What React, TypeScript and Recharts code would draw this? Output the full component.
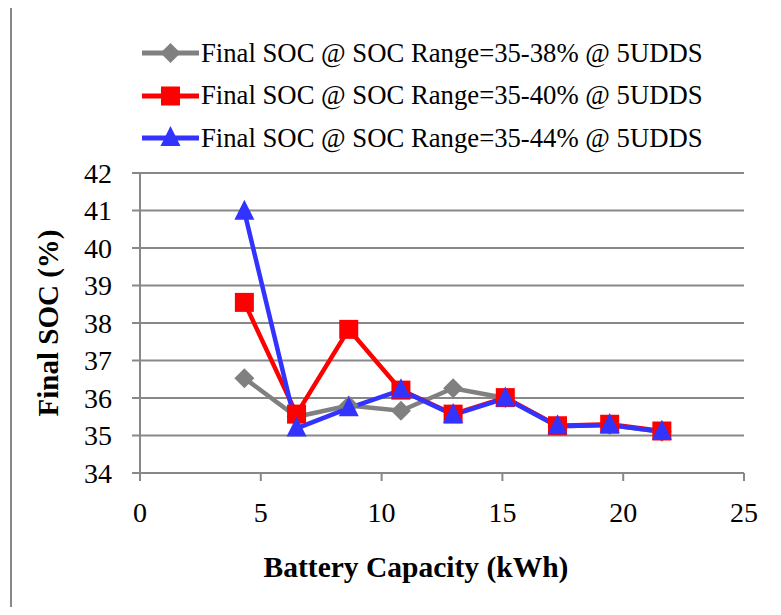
import { LineChart, Line, XAxis, YAxis, CartesianGrid } from "recharts"

// battery capacity (kWh) for each simulated pack
const capacity = [4.32, 6.48, 8.64, 10.8, 12.96, 15.12, 17.28, 19.44, 21.6]
// final SOC (%) after 5 UDDS, by SOC window
const soc35to38 = [36.53, 35.5, 35.8, 35.66, 36.26, 36.0, 35.25, 35.28, 35.1]
const soc35to40 = [38.55, 35.57, 37.83, 36.21, 35.57, 36.01, 35.26, 35.3, 35.12]
const soc35to44 = [40.97, 35.19, 35.73, 36.21, 35.55, 35.99, 35.25, 35.28, 35.1]

const xTicks = [0, 5, 10, 15, 20, 25]
const yTicks = [34, 35, 36, 37, 38, 39, 40, 41, 42]

const seriesNames = [
  "Final SOC @ SOC Range=35-38% @ 5UDDS",
  "Final SOC @ SOC Range=35-40% @ 5UDDS",
  "Final SOC @ SOC Range=35-44% @ 5UDDS",
]

const data = capacity.map((x, i) => ({
  x,
  a: soc35to38[i],
  b: soc35to40[i],
  c: soc35to44[i],
}))

const GRAY = "#808080"
const RED = "#FF0000"
const BLUE = "#3333FF"
const FONT = "'Liberation Serif', 'Times New Roman', serif"

type Marker = "diamond" | "square" | "triangle"

function markerShape(kind: Marker, cx: number, cy: number, color: string, key?: string | number) {
  if (kind === "diamond") {
    return <polygon key={key} points={`${cx},${cy - 10} ${cx + 10},${cy} ${cx},${cy + 10} ${cx - 10},${cy}`} fill={color} />
  }
  if (kind === "square") {
    return <rect key={key} x={cx - 9.5} y={cy - 9.5} width={19} height={19} fill={color} />
  }
  return <polygon key={key} points={`${cx},${cy - 12} ${cx + 10},${cy + 8} ${cx - 10},${cy + 8}`} fill={color} />
}

const makeDot = (kind: Marker, color: string) => (props: any) => {
  const { cx, cy, index } = props
  if (cx == null || cy == null) return <g key={index} />
  return markerShape(kind, cx, cy, color, index)
}

const legendItems: { name: string; color: string; kind: Marker }[] = [
  { name: seriesNames[0], color: GRAY, kind: "diamond" },
  { name: seriesNames[1], color: RED, kind: "square" },
  { name: seriesNames[2], color: BLUE, kind: "triangle" },
]

function ChartLegend() {
  return (
    <div
      style={{
        position: "absolute",
        left: 134,
        top: 24,
        fontFamily: FONT,
        fontSize: 26.7,
        color: "#000",
      }}
    >
      {legendItems.map((it) => (
        <div key={it.name} style={{ display: "flex", alignItems: "center", height: 42.5 }}>
          <svg width={57} height={26} style={{ marginRight: 2 }}>
            <line x1={0} y1={13} x2={57} y2={13} stroke={it.color} strokeWidth={5} />
            {markerShape(it.kind, 28.5, 13, it.color)}
          </svg>
          <span style={{ whiteSpace: "nowrap" }}>{it.name}</span>
        </div>
      ))}
    </div>
  )
}

export default function App() {
  return (
    <div style={{ position: "relative", width: 773, height: 599 }}>
      <div
        style={{
          position: "absolute",
          left: 2,
          top: -3,
          width: 760,
          height: 600,
          borderTop: "2px solid #888",
          borderLeft: "2px solid #888",
        }}
      />
      <ChartLegend />
      <LineChart
        width={773}
        height={599}
        data={data}
        margin={{ top: 165, right: 37, bottom: 0, left: 0 }}
        style={{ position: "absolute", left: 0, top: 0 }}
      >
        <CartesianGrid vertical={false} stroke="#888" strokeWidth={2} />
        <XAxis
          type="number"
          dataKey="x"
          domain={[0, 25]}
          ticks={xTicks}
          height={134}
          stroke="#888"
          strokeWidth={2}
          tickSize={8}
          tickMargin={21}
          tick={{ fontFamily: FONT, fontSize: 28, fill: "#000" }}
          label={{
            content: ({ viewBox }: any) => (
              <text
                x={viewBox.x + viewBox.width / 2 - 26}
                y={viewBox.y + 104}
                textAnchor="middle"
                fontFamily={FONT}
                fontSize={29.5}
                fontWeight="bold"
                fill="#000"
              >
                Battery Capacity (kWh)
              </text>
            ),
          }}
        />
        <YAxis
          type="number"
          domain={[34, 42]}
          ticks={yTicks}
          width={132}
          stroke="#888"
          strokeWidth={2}
          tickSize={8}
          tickMargin={20}
          tick={{ fontFamily: FONT, fontSize: 28, fill: "#000" }}
          label={{
            content: ({ viewBox }: any) => {
              const cx = 40
              const cy = viewBox.y + viewBox.height / 2
              return (
                <text
                  x={cx}
                  y={cy}
                  transform={`rotate(-90, ${cx}, ${cy})`}
                  textAnchor="middle"
                  dominantBaseline="central"
                  fontFamily={FONT}
                  fontSize={29}
                  fontWeight="bold"
                  fill="#000"
                >
                  Final SOC (%)
                </text>
              )
            },
          }}
        />
        <Line
          dataKey="a"
          name={seriesNames[0]}
          stroke={GRAY}
          strokeWidth={4.5}
          dot={makeDot("diamond", GRAY)}
          isAnimationActive={false}
        />
        <Line
          dataKey="b"
          name={seriesNames[1]}
          stroke={RED}
          strokeWidth={4.5}
          dot={makeDot("square", RED)}
          isAnimationActive={false}
        />
        <Line
          dataKey="c"
          name={seriesNames[2]}
          stroke={BLUE}
          strokeWidth={4.5}
          dot={makeDot("triangle", BLUE)}
          isAnimationActive={false}
        />
      </LineChart>
    </div>
  )
}
